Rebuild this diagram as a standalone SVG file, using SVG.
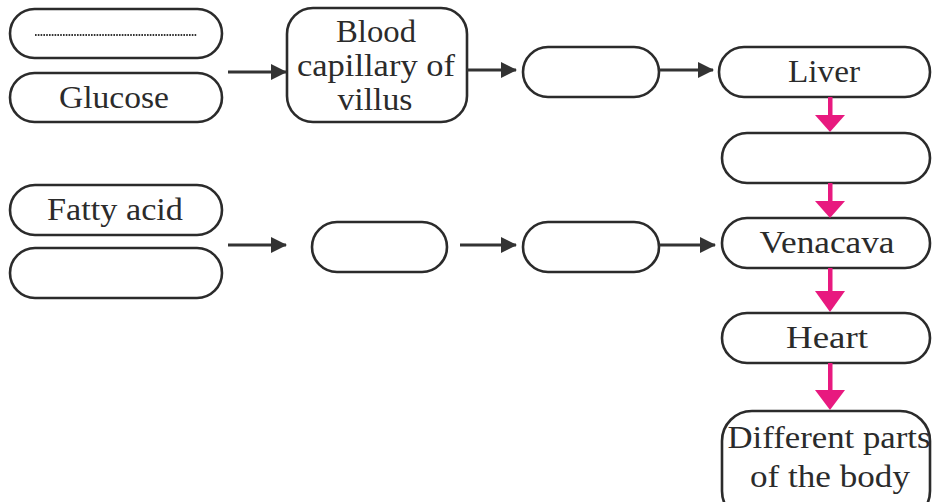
<svg xmlns="http://www.w3.org/2000/svg" width="932" height="502" viewBox="0 0 932 502">
  <style>
    .box { fill: #fff; stroke: #2b2b2b; stroke-width: 2.6; }
    .lbl { font-family: "Liberation Serif", "DejaVu Serif", serif; font-size: 31px; fill: #2b2b2b; text-anchor: middle; }
    .dark { stroke: #333; stroke-width: 3; fill: none; }
  </style>
  <defs>
    <marker id="headDark" viewBox="0 0 16 16" refX="15" refY="8" markerWidth="16" markerHeight="16" markerUnits="userSpaceOnUse" orient="auto">
      <path d="M0,0 L16,8 L0,16 Z" fill="#333"/>
    </marker>
  </defs>
  <rect width="932" height="502" fill="#fff"/>

  <!-- absorption route of sugars -->
  <g id="blank-top">
    <rect class="box" x="10" y="9" width="212" height="49" rx="24.5"/>
    <line x1="35" y1="35" x2="197" y2="35" stroke="#333" stroke-width="2.2" stroke-dasharray="1.6 1.2"/>
  </g>
  <g id="glucose">
    <rect class="box" x="10" y="73" width="212" height="49" rx="24.5"/>
    <text class="lbl" x="114" y="108" textLength="110" lengthAdjust="spacingAndGlyphs">Glucose</text>
  </g>
  <g id="capillary">
    <rect class="box" x="287" y="8" width="180" height="114" rx="26"/>
    <text class="lbl" x="376" y="42" textLength="80" lengthAdjust="spacingAndGlyphs">Blood</text>
    <text class="lbl" x="376" y="76" textLength="158" lengthAdjust="spacingAndGlyphs">capillary of</text>
    <text class="lbl" x="375" y="110" textLength="75" lengthAdjust="spacingAndGlyphs">villus</text>
  </g>
  <g id="blank-mid-top">
    <rect class="box" x="523" y="47" width="136" height="50" rx="25"/>
  </g>
  <g id="liver">
    <rect class="box" x="719" y="47" width="211" height="50" rx="25"/>
    <text class="lbl" x="824" y="82" textLength="72" lengthAdjust="spacingAndGlyphs">Liver</text>
  </g>
  <g id="blank-right">
    <rect class="box" x="722" y="133" width="208" height="50" rx="25"/>
  </g>

  <!-- absorption route of fats -->
  <g id="fatty-acid">
    <rect class="box" x="10" y="185" width="212" height="50" rx="25"/>
    <text class="lbl" x="115" y="220" textLength="136" lengthAdjust="spacingAndGlyphs">Fatty acid</text>
  </g>
  <g id="blank-left">
    <rect class="box" x="10" y="248" width="212" height="50" rx="25"/>
  </g>
  <g id="blank-lymph-1">
    <rect class="box" x="312" y="222" width="135" height="50" rx="25"/>
  </g>
  <g id="blank-lymph-2">
    <rect class="box" x="523" y="222" width="136" height="50" rx="25"/>
  </g>
  <g id="venacava">
    <rect class="box" x="722" y="218" width="208" height="50" rx="25"/>
    <text class="lbl" x="827" y="253" textLength="135" lengthAdjust="spacingAndGlyphs">Venacava</text>
  </g>
  <g id="heart">
    <rect class="box" x="722" y="313" width="208" height="50" rx="25"/>
    <text class="lbl" x="827" y="348" textLength="82" lengthAdjust="spacingAndGlyphs">Heart</text>
  </g>
  <g id="body-parts">
    <rect class="box" x="722" y="411" width="208" height="110" rx="30"/>
    <text class="lbl" x="829" y="448" textLength="203" lengthAdjust="spacingAndGlyphs">Different parts</text>
    <text class="lbl" x="830" y="487" textLength="160" lengthAdjust="spacingAndGlyphs">of the body</text>
  </g>

  <g id="connectors">
    <line class="dark" x1="228" y1="72" x2="286" y2="72" marker-end="url(#headDark)"/>
    <line class="dark" x1="467" y1="70" x2="516" y2="70" marker-end="url(#headDark)"/>
    <line class="dark" x1="659" y1="70" x2="713" y2="70" marker-end="url(#headDark)"/>
    <line class="dark" x1="228" y1="245" x2="286" y2="245" marker-end="url(#headDark)"/>
    <line class="dark" x1="460" y1="245" x2="516" y2="245" marker-end="url(#headDark)"/>
    <line class="dark" x1="659" y1="245" x2="715" y2="245" marker-end="url(#headDark)"/>

    <!-- downward flow in the right column -->
    <g fill="#e8197f">
      <rect x="828" y="97" width="4.5" height="20"/>
      <path d="M815,115 L845,115 L830,132 Z"/>
      <rect x="828" y="183" width="4.5" height="20"/>
      <path d="M815,201 L845,201 L830,218 Z"/>
      <rect x="828" y="268" width="4.5" height="25"/>
      <path d="M815,291 L845,291 L830,312 Z"/>
      <rect x="828" y="363" width="4.5" height="30"/>
      <path d="M815,390 L845,390 L830,410 Z"/>
    </g>
  </g>
</svg>
